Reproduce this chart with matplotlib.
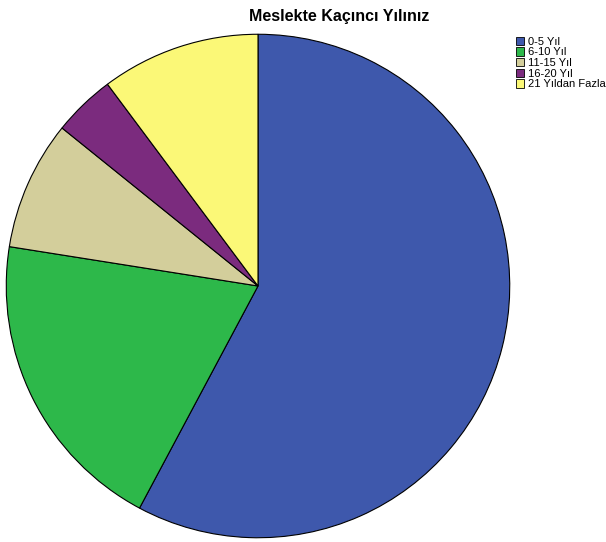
import numpy as np
import matplotlib.pyplot as plt
from matplotlib.patches import Patch

# data (percent)
labels = ["0-5 Yıl", "6-10 Yıl", "11-15 Yıl", "16-20 Yıl", "21 Yıldan Fazla"]
values = [57.8, 19.7, 8.3, 4.0, 10.2]
colors = ["#3e58ac", "#2db84a", "#d3ce9b", "#7b2b7e", "#fbf877"]

fig = plt.figure(figsize=(6.06, 5.42), dpi=100)
ax = fig.add_axes([5/606, 3/542, 506/606, 506/542])
ax.pie(values, colors=colors, startangle=90, counterclock=False,
       wedgeprops=dict(edgecolor="black", linewidth=0.8))
ax.set_xlim(-1.005, 1.005)
ax.set_ylim(-1.005, 1.005)
ax.set_aspect("equal")
ax.axis("off")

fig.text(339/606, 1-17/542, "Meslekte Kaçıncı Yılınız", ha="center", va="center",
         fontsize=11.5, fontweight="bold", family="Liberation Sans")

handles = [Patch(facecolor=c, edgecolor="black", linewidth=0.6) for c in colors]
fig.legend(handles, labels, loc="upper left", bbox_to_anchor=(510/606, 1-31/542),
           frameon=False, handlelength=0.8, handleheight=0.8,
           handletextpad=0.3, labelspacing=0.05, borderpad=0,
           prop={"family": "Liberation Sans", "size": 8})

fig.savefig("out.png", dpi=100)
